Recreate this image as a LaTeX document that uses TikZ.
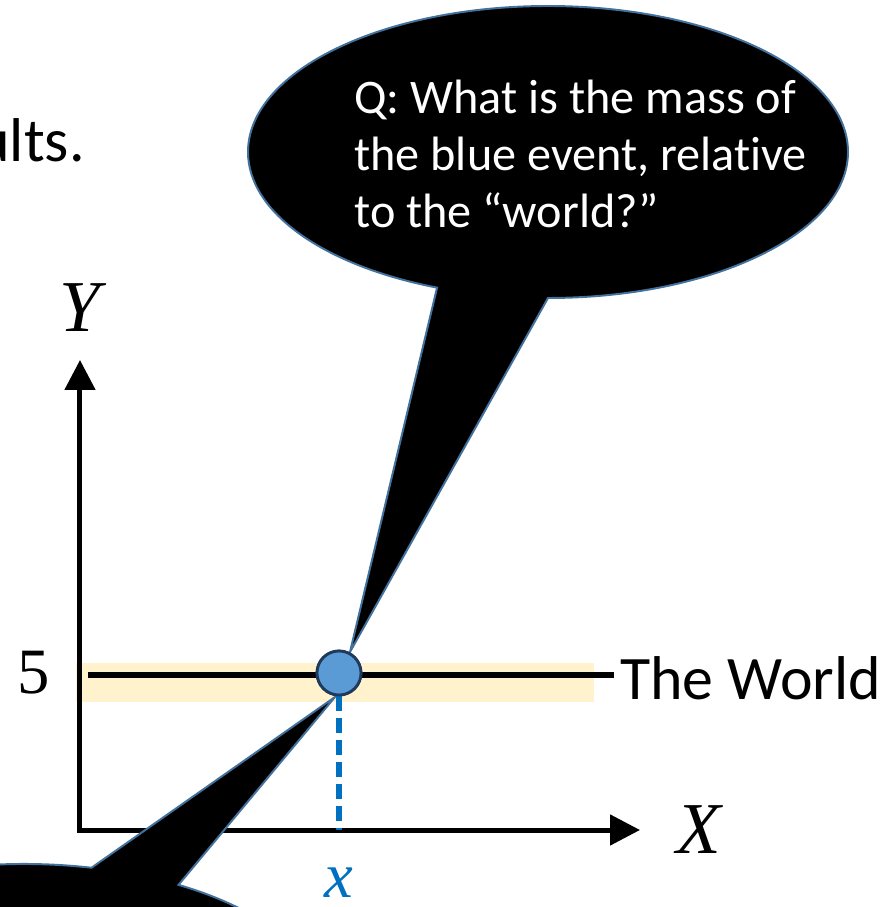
\documentclass[tikz,border=0pt]{standalone}
\usepackage{fontspec}
\setmainfont{Carlito}[Ligatures=NoCommon]
\newfontfamily\labfont{Liberation Serif}
\usepackage{xcolor}
\usetikzlibrary{positioning,arrows.meta,calc}

\definecolor{worldband}{HTML}{FFF2CC}
\definecolor{eventblue}{HTML}{5B9BD5}
\definecolor{eventedge}{HTML}{203A5C}
\definecolor{dropblue}{HTML}{0070C0}
\definecolor{calloutedge}{HTML}{41719C}

\begin{document}
\begin{tikzpicture}[
  axis/.style={line width=0.125cm, line join=miter,
    {Triangle[length=0.75cm, width=0.75cm]}-{Triangle[length=0.75cm, width=0.75cm]}},
  callout/.style={fill=black, draw=calloutedge, line width=1.4pt},
  event/.style={circle, minimum size=1.1cm, inner sep=0pt, fill=eventblue, draw=eventedge, line width=2pt},
  drop/.style={dropblue, line width=0.15cm, dash pattern=on 0.375cm off 0.175cm},
  bigtext/.style={font=\fontsize{44}{53}\selectfont, inner sep=0pt},
  mathlab/.style={font=\labfont\itshape\fontsize{52}{60}\selectfont, inner sep=0pt}
]
  \useasboundingbox (-2,-1.925) rectangle (20.3,20.75);
  \clip (-2,-1.925) rectangle (20.3,20.75);

  % the world: band and line at Y = 5
  \fill[worldband] (-0.1,3.2) rectangle (12.85,4.175);
  \node[bigtext, inner xsep=0.15cm, anchor=base west] (world) at (13.35,3.25) {The World};
  \coordinate (wl) at (0.2,3.875);
  \draw[line width=0.14cm] (wl) -- (wl -| world.west);

  % axes
  \coordinate (O) at (0,0);
  \coordinate (Ytip) at (0,11.75);
  \coordinate (Xtip) at (14,0);
  \draw[axis] (Ytip) -- (O) -- (Xtip);
  \node[mathlab, above=0.7cm of Ytip] (ylab) {Y};
  \node[mathlab, right=0.9cm of Xtip] (xlab) {X};
  \node[inner sep=0pt, font=\labfont\fontsize{46}{54}\selectfont] (five) at (-1.15,3.925) {5};
  \node[bigtext, anchor=base east] (prev) at (0.125,16.7) {ults.};

  % callouts
  \coordinate (qc) at (11.7,16.95);
  \coordinate (qtip) at (6.75,4.45);
  \draw[callout] (qc) ++(270:7.5 and 3.65)
    arc[start angle=270, end angle=608.3, x radius=7.5, y radius=3.65] -- (qtip) -- cycle;
  \coordinate (ac) at (-1.4,-4.5);
  \coordinate (atip) at (6.375,3.325);
  \draw[callout] (ac) ++(77:7.5 and 3.65)
    arc[start angle=77, end angle=419, x radius=7.5, y radius=3.65] -- (atip) -- cycle;
  \node[anchor=north west, inner sep=0pt, align=left, text=white,
    font=\fontsize{34.3}{40.3}\selectfont] (qtext) at (6.85,18.75)
    {Q: What is the mass of\\the blue event, relative\\to the “world?”};

  % the blue event
  \node[event] (ev) at (6.475,3.925) {};
  \coordinate (foot) at (ev.south |- O);
  \draw[drop] (ev.south) -- (foot);
  \node[event] at (ev) {};
  \node[mathlab, text=dropblue, font=\labfont\itshape\fontsize{46}{54}\selectfont,
    below=0.95cm of foot] (xval) {x};
\end{tikzpicture}
\end{document}
